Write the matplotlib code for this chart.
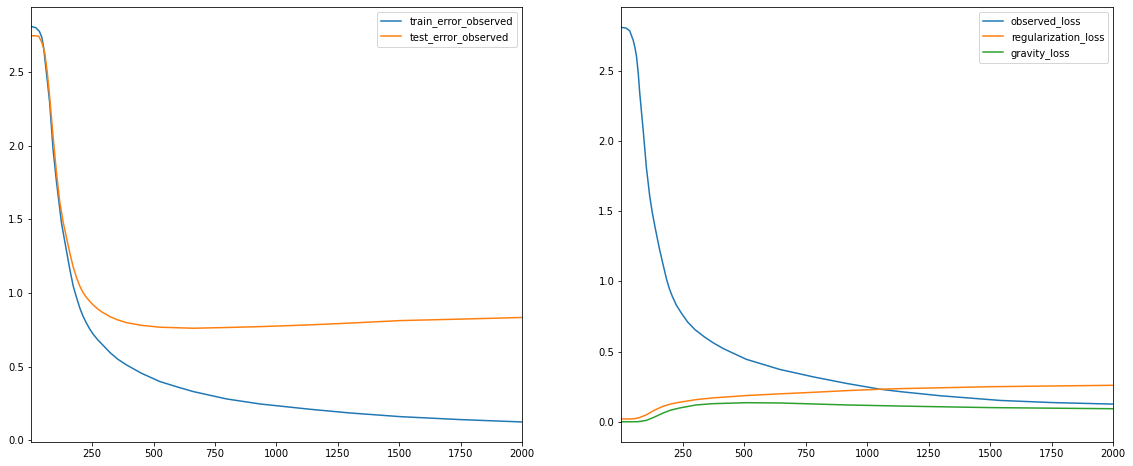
import matplotlib
matplotlib.use("Agg")
import matplotlib.pyplot as plt

# ---- left panel data ----
train_x = [1, 20, 35, 45, 52, 60, 70, 77, 91, 105, 125, 146, 159, 173, 187, 200, 212, 225, 240,
           254, 272, 290, 322, 355, 390, 450, 526, 600, 662, 798, 934, 1138, 1300, 1505, 1750, 2000]
train_error_observed = [2.808, 2.80, 2.775, 2.735, 2.67, 2.55, 2.40, 2.29, 1.97, 1.75, 1.475,
                        1.28, 1.16, 1.045, 0.965, 0.896, 0.845, 0.80, 0.755, 0.72, 0.683, 0.652,
                        0.596, 0.549, 0.511, 0.455, 0.398, 0.36, 0.33, 0.28, 0.246, 0.21, 0.185,
                        0.16, 0.14, 0.124]

test_x = [1, 20, 33, 45, 57, 67, 77, 91, 105, 118, 132, 150, 162, 173, 187, 200, 212, 225, 240,
          254, 272, 290, 322, 355, 390, 450, 526, 662, 798, 934, 1138, 1300, 1505, 1750, 2000]
test_error_observed = [2.745, 2.745, 2.74, 2.70, 2.63, 2.50, 2.33, 2.06, 1.81, 1.62, 1.48,
                       1.34, 1.25, 1.175, 1.10, 1.045, 1.005, 0.973, 0.943, 0.918, 0.892, 0.870,
                       0.839, 0.816, 0.798, 0.78, 0.767, 0.760, 0.765, 0.771, 0.783, 0.795,
                       0.812, 0.822, 0.833]

# ---- right panel data ----
obs_x = [1, 20, 35, 49, 56, 63, 70, 76, 90, 103, 117, 128, 140, 155, 169, 185, 196, 208, 225,
         246, 270, 300, 340, 375, 416, 509, 645, 781, 917, 1053, 1133, 1300, 1541, 1750, 2000]
observed_loss = [2.81, 2.805, 2.786, 2.72, 2.67, 2.60, 2.48, 2.34, 2.076, 1.81, 1.60, 1.48,
                 1.37, 1.24, 1.133, 1.014, 0.95, 0.895, 0.83, 0.772, 0.712, 0.657, 0.603, 0.562,
                 0.521, 0.445, 0.373, 0.32, 0.273, 0.232, 0.215, 0.185, 0.152, 0.137, 0.126]

reg_x = [1, 30, 55, 75, 103, 135, 170, 200, 237, 305, 373, 509, 645, 781, 917, 1053, 1133, 1500, 2000]
regularization_loss = [0.02, 0.02, 0.022, 0.03, 0.05, 0.082, 0.11, 0.126, 0.139, 0.158, 0.17,
                       0.187, 0.199, 0.21, 0.222, 0.232, 0.236, 0.25, 0.26]

grav_x = [1, 40, 70, 103, 135, 170, 200, 237, 305, 373, 509, 645, 781, 917, 1053, 1133, 1500, 2000]
gravity_loss = [0.0, 0.0, 0.001, 0.01, 0.033, 0.062, 0.082, 0.098, 0.12, 0.129, 0.136, 0.134,
                0.127, 0.12, 0.115, 0.112, 0.101, 0.093]

W, H = 1133, 466
fig = plt.figure(figsize=(W / 72, H / 72), dpi=72)

ax1 = fig.add_axes([31 / W, 24 / H, 491 / W, 435 / H])
ax1.plot(train_x, train_error_observed, label="train_error_observed")
ax1.plot(test_x, test_error_observed, label="test_error_observed")
ax1.set_xlim(1, 2000)
ax1.set_ylim(-0.012, 2.94)
ax1.set_xticks([250, 500, 750, 1000, 1250, 1500, 1750, 2000])
ax1.set_yticks([0.0, 0.5, 1.0, 1.5, 2.0, 2.5])
ax1.legend(loc="upper right")

ax2 = fig.add_axes([621.3 / W, 24 / H, 492 / W, 435 / H])
ax2.plot(obs_x, observed_loss, label="observed_loss")
ax2.plot(reg_x, regularization_loss, label="regularization_loss")
ax2.plot(grav_x, gravity_loss, label="gravity_loss")
ax2.set_xlim(1, 2000)
ax2.set_ylim(-0.144, 2.955)
ax2.set_xticks([250, 500, 750, 1000, 1250, 1500, 1750, 2000])
ax2.set_yticks([0.0, 0.5, 1.0, 1.5, 2.0, 2.5])
ax2.legend(loc="upper right")

fig.savefig("out.png", dpi=72)
